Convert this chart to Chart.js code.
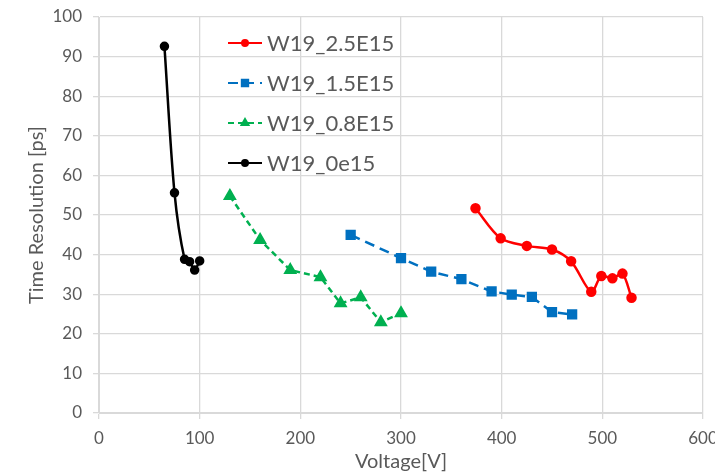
<!DOCTYPE html>
<html lang="en">
<head>
    <meta charset="UTF-8">
    <title>Time Resolution vs Voltage</title>
    <script src="https://cdn.jsdelivr.net/npm/chart.js"></script>
    <style>
        body { margin: 0; background: #fff; overflow: hidden; }
        .chart-container { position: relative; width: 715px; height: 474px; }
    </style>
</head>
<body>
    <div class="chart-container">
        <canvas id="resChart"></canvas>
    </div>

    <script>
        // values
        const xTicks = [0, 100, 200, 300, 400, 500, 600];
        const yTicks = [0, 10, 20, 30, 40, 50, 60, 70, 80, 90, 100];

        const w25V = [374, 399, 425, 450, 469, 489, 499, 510, 520, 529];
        const w25T = [51.7, 44.1, 42.2, 41.3, 38.3, 30.6, 34.6, 34.0, 35.2, 29.1];

        const w15V = [250, 300, 330, 360, 390, 410, 430, 450, 470];
        const w15T = [45.0, 39.1, 35.7, 33.8, 30.7, 29.9, 29.3, 25.5, 24.9];

        const w08V = [130, 160, 190, 220, 240, 260, 280, 300];
        const w08T = [54.8, 43.7, 36.1, 34.3, 27.7, 29.2, 22.9, 25.2];

        const w0V = [65, 75, 85, 90, 95, 100];
        const w0T = [92.6, 55.6, 38.8, 38.2, 36.1, 38.4];

        const toPoints = (xs, ys) => xs.map((x, i) => ({ x: x, y: ys[i] }));
        const grey = "#595959";
        const font = "Lato";

        // legend drawn inside the plot, like the original
        const insideLegend = {
            id: "insideLegend",
            afterDraw(chart) {
                const ctx = chart.ctx;
                const left = chart.chartArea.left + 129;
                const top = chart.chartArea.top + 26;
                chart.data.datasets.forEach((ds, i) => {
                    const y = top + i * 40;
                    ctx.save();
                    ctx.strokeStyle = ds.borderColor;
                    ctx.lineWidth = 2;
                    ctx.setLineDash(ds.borderDash || []);
                    ctx.beginPath();
                    ctx.moveTo(left, y);
                    ctx.lineTo(left + 34, y);
                    ctx.stroke();
                    ctx.setLineDash([]);
                    Chart.helpers.drawPoint(ctx, {
                        pointStyle: ds.pointStyle,
                        radius: ds.legendRadius,
                        borderWidth: 1
                    }, left + 17, y);
                    ctx.fillStyle = ds.borderColor;
                    ctx.fill();
                    ctx.fillStyle = grey;
                    ctx.font = "22px " + font;
                    ctx.textBaseline = "middle";
                    ctx.fillText(ds.label, left + 39, y + 1);
                    ctx.restore();
                });
            }
        };

        new Chart(document.getElementById("resChart"), {
            type: "scatter",
            data: {
                datasets: [
                    {
                        label: "W19_2.5E15",
                        data: toPoints(w25V, w25T),
                        showLine: true,
                        borderColor: "#ff0000",
                        backgroundColor: "#ff0000",
                        borderWidth: 2.5,
                        tension: 0.3,
                        pointStyle: "circle",
                        pointRadius: 4,
                        legendRadius: 3
                    },
                    {
                        label: "W19_1.5E15",
                        data: toPoints(w15V, w15T),
                        showLine: true,
                        borderColor: "#0070c0",
                        backgroundColor: "#0070c0",
                        borderWidth: 2.5,
                        borderDash: [10, 6],
                        pointStyle: "rect",
                        pointRadius: 5.5,
                        legendRadius: 4.5
                    },
                    {
                        label: "W19_0.8E15",
                        data: toPoints(w08V, w08T),
                        showLine: true,
                        borderColor: "#00b050",
                        backgroundColor: "#00b050",
                        borderWidth: 2.5,
                        borderDash: [6, 4],
                        pointStyle: "triangle",
                        pointRadius: 5.5,
                        legendRadius: 4
                    },
                    {
                        label: "W19_0e15",
                        data: toPoints(w0V, w0T),
                        showLine: true,
                        borderColor: "#000000",
                        backgroundColor: "#000000",
                        borderWidth: 2.5,
                        tension: 0.3,
                        pointStyle: "circle",
                        pointRadius: 3.5,
                        legendRadius: 3
                    }
                ]
            },
            options: {
                responsive: true,
                maintainAspectRatio: false,
                animation: false,
                layout: { padding: { left: 25, top: 17, right: 12, bottom: 0 } },
                plugins: {
                    legend: { display: false },
                    tooltip: { enabled: false }
                },
                scales: {
                    x: {
                        type: "linear",
                        min: 0,
                        max: 600,
                        afterBuildTicks: axis => { axis.ticks = xTicks.map(v => ({ value: v })); },
                        afterFit: axis => {
                            axis.height = 61;
                            axis.paddingLeft = 0;
                            axis.paddingRight = 0;
                        },
                        grid: { color: "#d9d9d9", lineWidth: 1.3, tickLength: 6 },
                        border: { color: "#d9d9d9" },
                        ticks: { color: grey, font: { family: font, size: 17 }, padding: 9 },
                        title: {
                            display: true,
                            text: "Voltage[V]",
                            color: grey,
                            font: { family: font, size: 20 },
                            padding: { top: 0, bottom: 0 }
                        }
                    },
                    y: {
                        type: "linear",
                        min: 0,
                        max: 100,
                        afterBuildTicks: axis => { axis.ticks = yTicks.map(v => ({ value: v })); },
                        afterFit: axis => {
                            axis.width = 74;
                            axis.paddingTop = 0;
                            axis.paddingBottom = 0;
                        },
                        grid: { color: "#d9d9d9", lineWidth: 1.3, tickLength: 6 },
                        border: { color: "#d9d9d9" },
                        ticks: { color: grey, font: { family: font, size: 17 }, padding: 11 },
                        title: {
                            display: true,
                            text: "Time Resolution [ps]",
                            color: grey,
                            font: { family: font, size: 20 },
                            padding: { top: 0, bottom: 0 }
                        }
                    }
                }
            },
            plugins: [insideLegend]
        });
    </script>
</body>
</html>
